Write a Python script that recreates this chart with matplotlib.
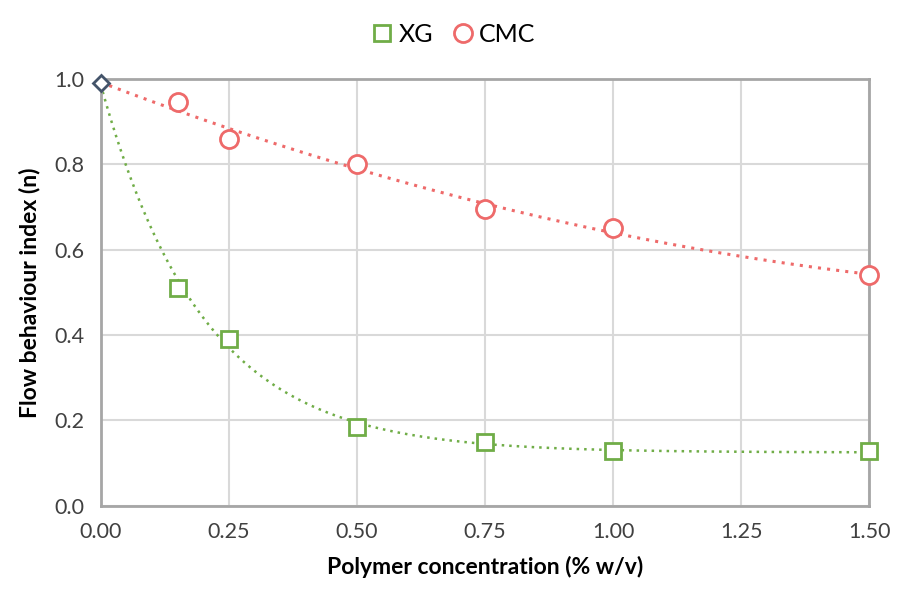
import numpy as np
import matplotlib.pyplot as plt

plt.rcParams['font.family'] = ['Lato', 'DejaVu Sans']

# concentration (% w/v) and flow behaviour index n
conc = [0.15, 0.25, 0.50, 0.75, 1.00, 1.50]
n_xg = [0.51, 0.39, 0.185, 0.15, 0.128, 0.128]
n_cmc = [0.945, 0.86, 0.80, 0.695, 0.65, 0.54]
water_x = [0.0]
water_n = [0.99]

green = '#70AD47'
red = '#EE6A6A'

fig = plt.figure(figsize=(8.99, 5.93), dpi=100)
ax = fig.add_axes([0.112, 0.147, 0.855, 0.72])

# trend lines fitted through the water point + each series
xs = np.linspace(0, 1.5, 300)
x_all = np.array(water_x + conc)
y_xg = np.array(water_n + n_xg) - 0.125
p_xg = np.polyfit(x_all, np.log(y_xg), 1, w=y_xg)
ax.plot(xs, 0.125 + np.exp(np.polyval(p_xg, xs)), ls=(0, (1, 2)), color=green, lw=1.8)
p_cmc = np.polyfit(x_all, np.array(water_n + n_cmc), 2)
ax.plot(xs, np.polyval(p_cmc, xs), ls=(0, (1, 2)), color=red, lw=2.2)

ax.plot(conc, n_xg, 's', ms=12, mfc='white', mec=green, mew=2, label='XG', zorder=5, clip_on=False)
ax.plot(conc, n_cmc, 'o', ms=13, mfc='white', mec=red, mew=2, label='CMC', zorder=5, clip_on=False)
ax.plot(water_x, water_n, 'D', ms=8, mfc='white', mec='#44546A', mew=2, zorder=6, clip_on=False)

ax.set_xlim(0, 1.5)
ax.set_ylim(0, 1.0)
ax.set_xticks([0, 0.25, 0.5, 0.75, 1.0, 1.25, 1.5])
ax.set_xticklabels(['0.00', '0.25', '0.50', '0.75', '1.00', '1.25', '1.50'])
ax.set_yticks([0, 0.2, 0.4, 0.6, 0.8, 1.0])
ax.set_yticklabels(['0.0', '0.2', '0.4', '0.6', '0.8', '1.0'])
ax.tick_params(length=0, labelsize=15.5, pad=12, colors='#404040')
ax.grid(True, color='#D9D9D9', lw=1.5)
ax.set_axisbelow(True)
for s in ax.spines.values():
    s.set_color('#A6A6A6')
    s.set_linewidth(2)

ax.set_xlabel('Polymer concentration (% w/v)', fontsize=16.5, fontweight='bold', labelpad=10)
ax.set_ylabel('Flow behaviour index (n)', fontsize=16.5, fontweight='bold', labelpad=10)

fig.legend(loc='upper center', bbox_to_anchor=(0.502, 1.0), ncol=2, frameon=False,
           fontsize=18, handletextpad=0.05, columnspacing=0.6, handlelength=1.2,
           markerscale=1.0)

fig.savefig('out.png', dpi=100)
